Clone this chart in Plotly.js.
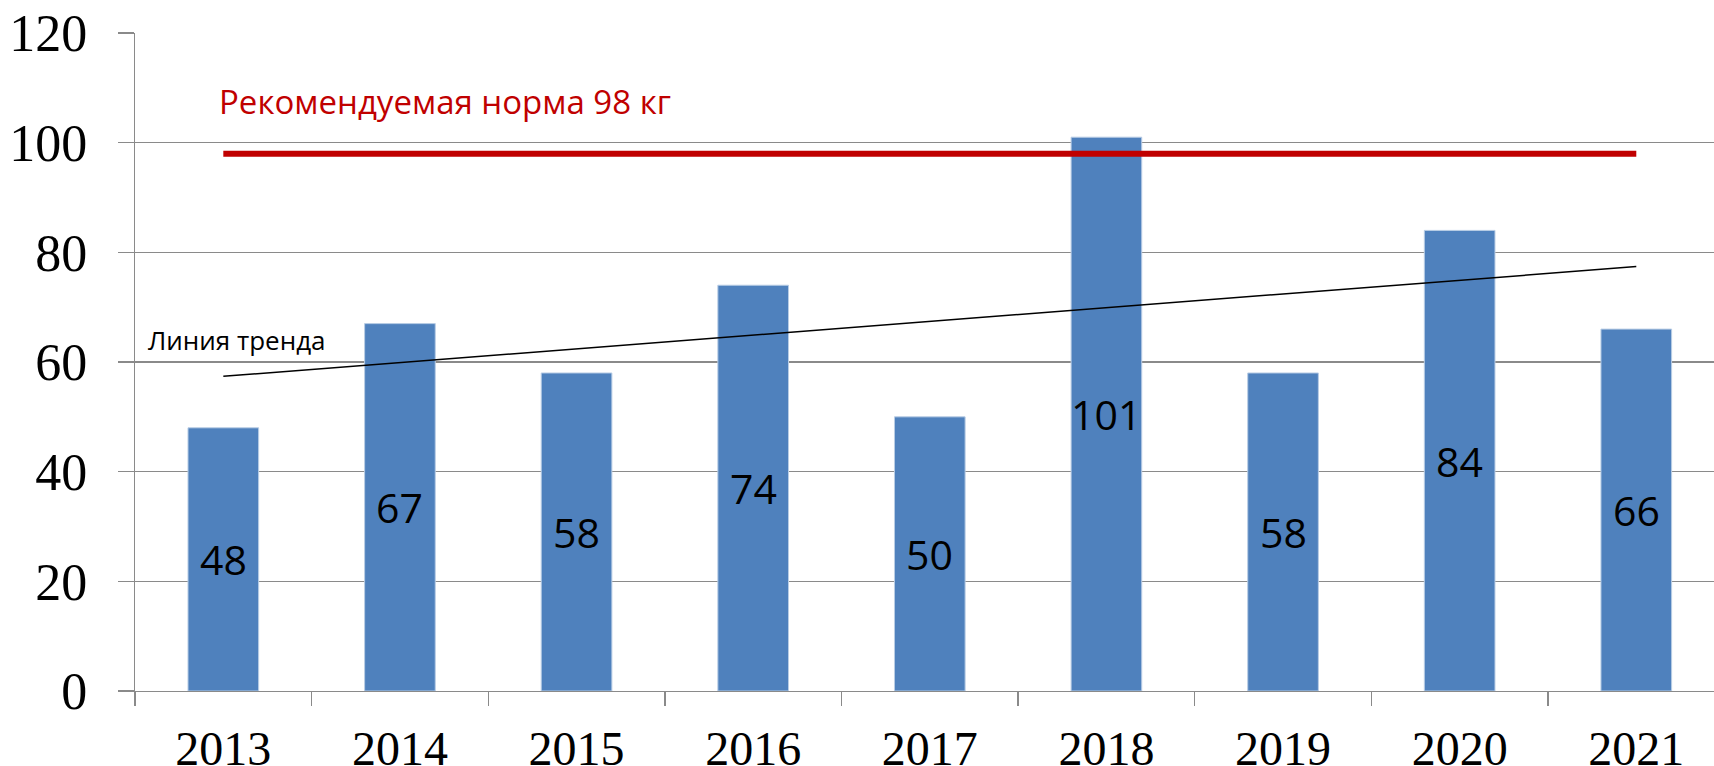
<!DOCTYPE html>
<html>
<head>
<meta charset="utf-8">
<script src="https://cdn.plot.ly/plotly-3.0.1.min.js"></script>
<style>html,body{margin:0;padding:0;background:#fff;}#chart{width:1714px;height:766px;}</style>
</head>
<body>
<div id="chart"></div>
<script>
const years = ['2013','2014','2015','2016','2017','2018','2019','2020','2021'];
const values = [48, 67, 58, 74, 50, 101, 58, 84, 66];
const normValue = 98;
const normLabel = 'Рекомендуемая норма 98 кг';
const trendYears = ['2013','2021'];
const trendValues = [57.4, 77.4];
const trendLabel = 'Линия тренда';
const yTicks = [0, 20, 40, 60, 80, 100, 120];

const bars = {
  type: 'bar', x: years, y: values,
  marker: {color: '#4F81BD', line: {color: '#b9cde5', width: 1}},
  hoverinfo: 'x+y', showlegend: false
};
const norm = {
  type: 'scatter', mode: 'lines', x: years, y: years.map(() => normValue),
  line: {color: '#C00000', width: 6}, showlegend: false, hoverinfo: 'skip'
};
const trend = {
  type: 'scatter', mode: 'lines', x: trendYears, y: trendValues,
  line: {color: '#000000', width: 1.5}, showlegend: false, hoverinfo: 'skip'
};

const annotations = years.map((yr, i) => ({
  x: i, y: values[i] / 2, xref: 'x', yref: 'y', text: String(values[i]),
  showarrow: false, xanchor: 'center', yanchor: 'middle',
  font: {family: 'Open Sans', size: 41, color: '#000'}
}));
annotations.push({
  x: 0, y: 107.5, xref: 'x', yref: 'y', text: normLabel, showarrow: false,
  xanchor: 'left', yanchor: 'middle', xshift: -6,
  font: {family: 'Open Sans', size: 33, color: '#C00000'}
});
annotations.push({
  x: -0.435, y: 64, xref: 'x', yref: 'y', text: trendLabel, showarrow: false,
  xanchor: 'left', yanchor: 'middle',
  font: {family: 'Open Sans', size: 26, color: '#000'}
});

const layout = {
  width: 1714, height: 766,
  margin: {l: 135, r: 0, t: 33, b: 75},
  paper_bgcolor: '#fff', plot_bgcolor: '#fff',
  bargap: 0.6,
  xaxis: {
    type: 'category', range: [-0.5, 8.44], tickson: 'boundaries',
    ticks: 'outside', ticklen: 14, tickcolor: '#8a8a8a', tickwidth: 1.3,
    showline: true, linecolor: '#8a8a8a', linewidth: 1.3,
    showgrid: false, ticklabelstandoff: 15,
    tickfont: {family: 'Liberation Serif', size: 48, color: '#000'},
    fixedrange: true
  },
  yaxis: {
    range: [0, 120], tickvals: yTicks, ticktext: yTicks.map(String),
    ticks: 'outside', ticklen: 16, tickcolor: '#8a8a8a', tickwidth: 1.3,
    showline: true, linecolor: '#8a8a8a', linewidth: 1.3,
    showgrid: true, gridcolor: '#8a8a8a', gridwidth: 1.3,
    zeroline: false, ticklabelstandoff: 20,
    tickfont: {family: 'Liberation Serif', size: 52, color: '#000'},
    fixedrange: true
  },
  annotations: annotations
};

Plotly.newPlot('chart', [bars, trend, norm], layout, {displayModeBar: false, staticPlot: true});
</script>
</body>
</html>
